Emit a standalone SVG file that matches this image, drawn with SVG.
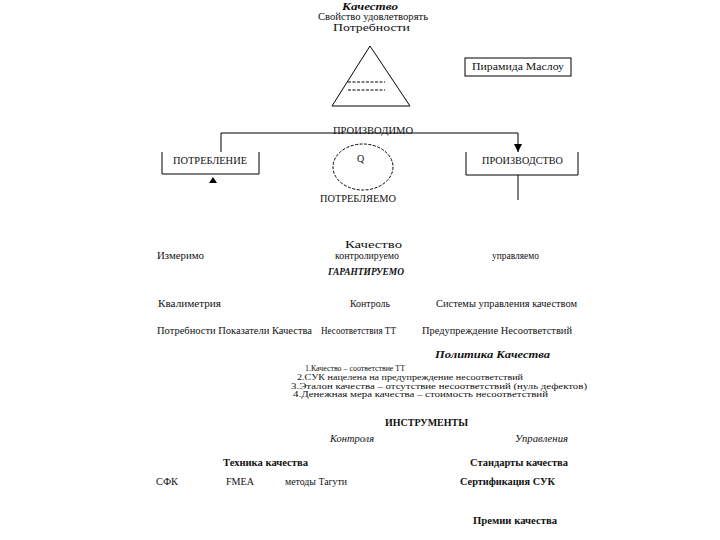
<svg xmlns="http://www.w3.org/2000/svg" width="720" height="540" viewBox="0 0 720 540">
<defs>
<style>
text{font-family:"Liberation Serif","Times New Roman",serif;fill:#111;font-size:10px}
.bi{font-weight:bold;font-style:italic}
.b{font-weight:bold}
.i{font-style:italic}
.pol{font-size:8.5px}
.ln{fill:none;stroke:#000;stroke-width:1}
.dash{fill:none;stroke:#000;stroke-width:1;stroke-dasharray:3,1.5}
</style>
<marker id="arrDown" viewBox="0 0 10 10" refX="10" refY="5" markerWidth="8" markerHeight="8" orient="auto" markerUnits="userSpaceOnUse">
<path d="M0,0 L10,5 L0,10 Z" fill="#000"/>
</marker>
</defs>
<rect width="720" height="540" fill="#fff"/>

<g id="title">
<text x="342" y="10" class="bi" font-size="11" textLength="56" lengthAdjust="spacingAndGlyphs">Качество</text>
<text x="318" y="20" font-size="8.5" textLength="110" lengthAdjust="spacingAndGlyphs">Свойство удовлетворять</text>
<text x="333" y="31" font-size="12" textLength="77" lengthAdjust="spacingAndGlyphs">Потребности</text>
</g>

<g id="pyramid">
<polygon points="370,46 332,106 410,106" class="ln"/>
<line x1="348" y1="82" x2="385" y2="82" class="dash"/>
<line x1="348" y1="90" x2="385" y2="90" class="dash"/>
</g>

<g id="maslow">
<rect x="465" y="58" width="106" height="18" class="ln"/>
<text x="472" y="70" font-size="9" textLength="92" lengthAdjust="spacingAndGlyphs">Пирамида Маслоу</text>
</g>

<g id="connectors">
<path d="M221,152 V133 H518 V152" class="ln" marker-end="url(#arrDown)"/>
<line x1="518" y1="175" x2="518" y2="200" class="ln"/>
<polygon points="213,177 209,183 217,183" fill="#000"/>
</g>

<g id="produced-label">
<text x="333" y="134" textLength="80" lengthAdjust="spacingAndGlyphs">ПРОИЗВОДИМО</text>
</g>

<g id="consumption">
<path d="M162,152 V174 H259 V152" class="ln"/>
<text x="173" y="164" textLength="74" lengthAdjust="spacingAndGlyphs">ПОТРЕБЛЕНИЕ</text>
</g>

<g id="q-circle">
<ellipse cx="363" cy="167" rx="30" ry="23" class="dash"/>
<text x="357" y="162" font-size="15">Q</text>
</g>

<g id="production">
<path d="M466,152 V175 H578 V152" class="ln"/>
<text x="482" y="164" textLength="81" lengthAdjust="spacingAndGlyphs">ПРОИЗВОДСТВО</text>
</g>

<g id="consumed-label">
<text x="320" y="202" textLength="76" lengthAdjust="spacingAndGlyphs">ПОТРЕБЛЯЕМО</text>
</g>

<g id="quality-props">
<text x="345" y="248" font-size="12" textLength="57" lengthAdjust="spacingAndGlyphs">Качество</text>
<text x="157" y="259" textLength="47" lengthAdjust="spacingAndGlyphs">Измеримо</text>
<text x="335" y="259" textLength="64" lengthAdjust="spacingAndGlyphs">контролируемо</text>
<text x="492" y="259" textLength="47" lengthAdjust="spacingAndGlyphs">управляемо</text>
<text x="328" y="275" class="bi" textLength="76" lengthAdjust="spacingAndGlyphs">ГАРАНТИРУЕМО</text>
</g>

<g id="methods">
<text x="158" y="307" textLength="63" lengthAdjust="spacingAndGlyphs">Квалиметрия</text>
<text x="350" y="307" textLength="40" lengthAdjust="spacingAndGlyphs">Контроль</text>
<text x="436" y="307" textLength="141" lengthAdjust="spacingAndGlyphs">Системы управления качеством</text>
<text x="157" y="334" textLength="155" lengthAdjust="spacingAndGlyphs">Потребности Показатели Качества</text>
<text x="321" y="334" textLength="75" lengthAdjust="spacingAndGlyphs">Несоответствия ТТ</text>
<text x="422" y="334" textLength="150" lengthAdjust="spacingAndGlyphs">Предупреждение Несоответствий</text>
</g>

<g id="policy">
<text x="435" y="358" class="bi" font-size="11" textLength="115" lengthAdjust="spacingAndGlyphs">Политика Качества</text>
<text x="305" y="371" class="pol" textLength="100" lengthAdjust="spacingAndGlyphs">1.Качество – соответствие ТТ</text>
<text x="297" y="380" class="pol" textLength="226" lengthAdjust="spacingAndGlyphs">2.СУК нацелена на предупреждение несоответствий</text>
<text x="291" y="388.5" class="pol" textLength="296" lengthAdjust="spacingAndGlyphs">3.Эталон качества – отсутствие несоответствий (нуль дефектов)</text>
<text x="293" y="397" class="pol" textLength="255" lengthAdjust="spacingAndGlyphs">4.Денежная мера качества – стоимость несоответствий</text>
</g>

<g id="tools">
<text x="385" y="426" class="b" textLength="83" lengthAdjust="spacingAndGlyphs">ИНСТРУМЕНТЫ</text>
<text x="330" y="442" class="i" textLength="44" lengthAdjust="spacingAndGlyphs">Контроля</text>
<text x="515" y="442" class="i" textLength="53" lengthAdjust="spacingAndGlyphs">Управления</text>
<text x="223" y="466" class="b" textLength="85" lengthAdjust="spacingAndGlyphs">Техника качества</text>
<text x="470" y="466" class="b" textLength="98" lengthAdjust="spacingAndGlyphs">Стандарты качества</text>
<text x="156" y="485" textLength="22" lengthAdjust="spacingAndGlyphs">СФК</text>
<text x="226" y="485" textLength="28" lengthAdjust="spacingAndGlyphs">FMEA</text>
<text x="285" y="485" textLength="62" lengthAdjust="spacingAndGlyphs">методы Тагути</text>
<text x="460" y="485" class="b" textLength="95" lengthAdjust="spacingAndGlyphs">Сертификация СУК</text>
<text x="473" y="524" class="b" textLength="84" lengthAdjust="spacingAndGlyphs">Премии качества</text>
</g>
</svg>
